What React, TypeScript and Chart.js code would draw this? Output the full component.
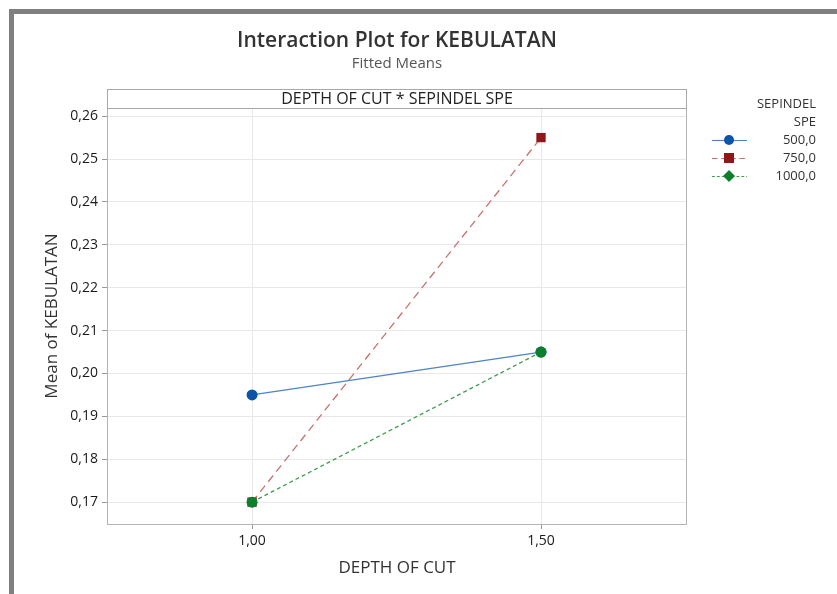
import React, { useEffect, useRef } from "react";
import { Chart, registerables } from "chart.js";
Chart.register(...registerables);

const depthOfCut = [1.0, 1.5];
const xTicks = [1.0, 1.5];
const yTicks = [0.17, 0.18, 0.19, 0.2, 0.21, 0.22, 0.23, 0.24, 0.25, 0.26];
const spe500 = [0.195, 0.205];
const spe750 = [0.17, 0.255];
const spe1000 = [0.17, 0.205];
const legendLabels = ["500,0", "750,0", "1000,0"];

const FONT = "'Open Sans', 'Noto Sans', sans-serif";
const fmt = (v: number) => v.toFixed(2).replace(".", ",");

export default function App() {
  const ref = useRef<HTMLCanvasElement | null>(null);
  useEffect(() => {
    if (!ref.current) return;
    const series = [
      { data: spe500, line: "#4d83c9", mark: "#0a55a8", style: "circle", dash: [] as number[], r: 5.5 },
      { data: spe750, line: "#c77373", mark: "#8e1717", style: "rect", dash: [8, 5], r: 6.6 },
      { data: spe1000, line: "#3f9d4f", mark: "#0c7f2c", style: "circle", dash: [4, 3], r: 5.5 },
    ];
    const decor = {
      id: "decor",
      beforeDraw(chart: any) {
        const ctx = chart.ctx;
        ctx.save();
        ctx.fillStyle = "#fff";
        ctx.fillRect(0, 0, chart.width, chart.height);
        ctx.fillStyle = "#808080";
        ctx.fillRect(9, 9, chart.width - 9, 5);
        ctx.fillRect(9, 9, 5, chart.height - 9);
        ctx.restore();
      },
      afterDraw(chart: any) {
        const ctx = chart.ctx;
        const a = chart.chartArea;
        ctx.save();
        // plot border
        ctx.strokeStyle = "#b4b4b4";
        ctx.lineWidth = 1;
        ctx.strokeRect(a.left + 0.5, a.top + 0.5, a.right - a.left - 1, a.bottom - a.top);
        // strip
        ctx.strokeStyle = "#a8a8a8";
        ctx.strokeRect(a.left + 0.5, 89.5, a.right - a.left - 1, a.top - 89);
        ctx.fillStyle = "#222";
        ctx.font = `16px ${FONT}`;
        ctx.textAlign = "center";
        ctx.textBaseline = "middle";
        ctx.fillText("DEPTH OF CUT * SEPINDEL SPE", (a.left + a.right) / 2, 99);
        // titles
        ctx.fillStyle = "#333";
        ctx.font = `600 21px ${FONT}`;
        ctx.fillText("Interaction Plot for KEBULATAN", 397, 41);
        ctx.fillStyle = "#555";
        ctx.font = `15px ${FONT}`;
        ctx.fillText("Fitted Means", 397, 64);
        // axis titles
        ctx.fillStyle = "#333";
        ctx.font = `17px ${FONT}`;
        ctx.fillText("DEPTH OF CUT", 397, 568);
        ctx.save();
        ctx.translate(52, 316);
        ctx.rotate(-Math.PI / 2);
        ctx.fillText("Mean of KEBULATAN", 0, 0);
        ctx.restore();
        // legend
        ctx.textAlign = "right";
        ctx.fillStyle = "#333";
        ctx.font = `13px ${FONT}`;
        ctx.fillText("SEPINDEL", 816, 104);
        ctx.fillText("SPE", 816, 122);
        const ys = [140, 158, 176];
        series.forEach((s, i) => {
          const y = ys[i];
          ctx.strokeStyle = s.line;
          ctx.lineWidth = 1;
          ctx.setLineDash(s.dash.map((d) => d * 0.7));
          ctx.beginPath();
          ctx.moveTo(712, y + 0.5);
          ctx.lineTo(747, y + 0.5);
          ctx.stroke();
          ctx.setLineDash([]);
          ctx.fillStyle = s.mark;
          if (i === 0) {
            ctx.beginPath();
            ctx.arc(729, y, 5, 0, Math.PI * 2);
            ctx.fill();
          } else if (i === 1) {
            ctx.fillRect(724, y - 5, 10, 10);
          } else {
            ctx.beginPath();
            ctx.moveTo(729, y - 6);
            ctx.lineTo(735, y);
            ctx.lineTo(729, y + 6);
            ctx.lineTo(723, y);
            ctx.closePath();
            ctx.fill();
          }
          ctx.fillStyle = "#333";
          ctx.fillText(legendLabels[i], 816, y);
        });
        ctx.restore();
      },
    };
    const chart = new Chart(ref.current, {
      type: "line",
      data: {
        datasets: series.map((s, i) => ({
          label: legendLabels[i],
          data: depthOfCut.map((x, j) => ({ x, y: s.data[j] })),
          order: 2 - i,
          borderColor: s.line,
          borderWidth: 1.3,
          borderDash: s.dash,
          pointStyle: s.style as any,
          pointRadius: s.r,
          pointBackgroundColor: s.mark,
          pointBorderColor: s.mark,
          pointBorderWidth: 0,
          fill: false,
          tension: 0,
        })),
      },
      plugins: [decor],
      options: {
        animation: false,
        responsive: false,
        devicePixelRatio: 1,
        layout: { padding: { left: 0, top: 108, right: 150, bottom: 0 } },
        plugins: { legend: { display: false }, title: { display: false }, tooltip: { enabled: false } },
        scales: {
          x: {
            type: "linear",
            min: 0.749,
            max: 1.7526,
            afterBuildTicks: (s: any) => { s.ticks = xTicks.map((v) => ({ value: v })); },
            afterFit: (s: any) => { s.height = 70; },
            ticks: { callback: (v: any) => fmt(Number(v)), color: "#1a1a1a", font: { family: FONT, size: 14 }, padding: 4, maxRotation: 0 },
            grid: { color: "#e8e8e8", tickColor: "#999", tickLength: 5, drawTicks: true },
            border: { display: false },
          },
          y: {
            type: "linear",
            min: 0.1649,
            max: 0.2619,
            afterBuildTicks: (s: any) => { s.ticks = yTicks.map((v) => ({ value: v })); },
            afterFit: (s: any) => { s.width = 107; },
            ticks: { callback: (v: any) => fmt(Number(v)), color: "#1a1a1a", font: { family: FONT, size: 14 }, padding: 4 },
            grid: { color: "#e8e8e8", tickColor: "#999", tickLength: 5, drawTicks: true },
            border: { display: false },
          },
        },
      },
    });
    return () => chart.destroy();
  }, []);
  return (
    <div style={{ position: "fixed", left: 0, top: 0 }}>
      <canvas ref={ref} width={837} height={594} style={{ display: "block", width: 837, height: 594 }} />
    </div>
  );
}
